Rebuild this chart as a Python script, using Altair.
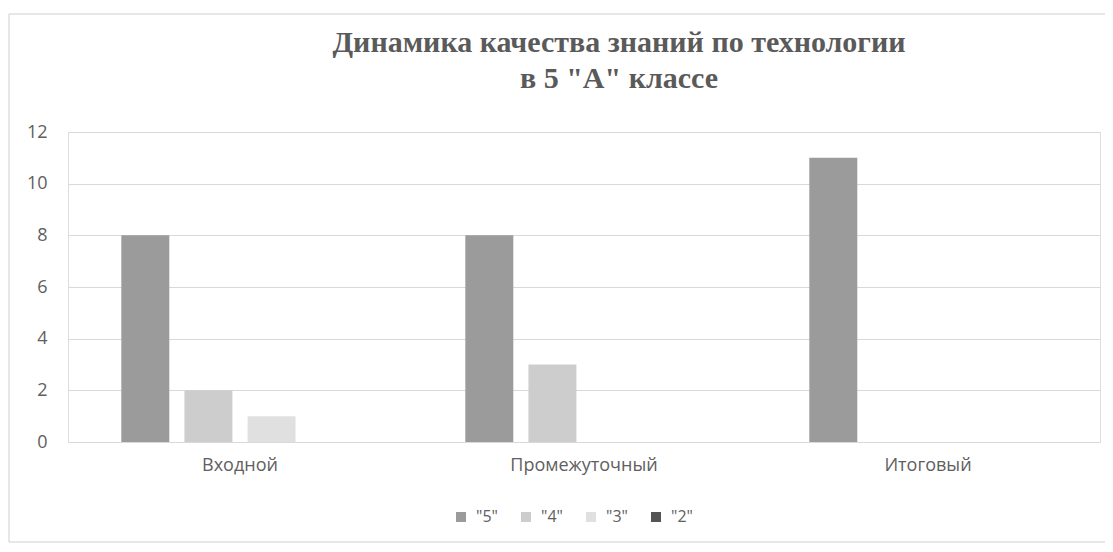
import altair as alt
import pandas as pd

categories = ["Входной", "Промежуточный", "Итоговый"]
series = ['"5"', '"4"', '"3"', '"2"']
values_5 = [8, 8, 11]
values_4 = [2, 3, 0]
values_3 = [1, 0, 0]
values_2 = [0, 0, 0]
colors = ["#9b9b9b", "#cdcdcd", "#e0e0e0", "#545454"]

rows = []
for s, vals in zip(series, [values_5, values_4, values_3, values_2]):
    for c, v in zip(categories, vals):
        rows.append({"cat": c, "series": s, "value": v})
df = pd.DataFrame(rows)

bars = alt.Chart(df).mark_bar().encode(
    x=alt.X("cat:N", sort=categories, title=None,
            scale=alt.Scale(paddingInner=0.31, paddingOuter=0.155),
            axis=alt.Axis(labelAngle=0, domain=False, ticks=False, labelPadding=14,
                          labelFontSize=18, labelColor="#606060", labelFont="Open Sans")),
    xOffset=alt.XOffset("series:N", sort=series,
                        scale=alt.Scale(paddingInner=0.24, paddingOuter=0)),
    y=alt.Y("value:Q", title=None,
            scale=alt.Scale(domain=[0, 12]),
            axis=alt.Axis(values=[0, 2, 4, 6, 8, 10, 12], domain=False, ticks=False,
                          labelPadding=21, labelFontSize=18, labelColor="#606060",
                          labelFont="Open Sans", gridColor="#d9d9d9")),
    color=alt.Color("series:N", sort=series,
                    scale=alt.Scale(domain=series, range=colors),
                    legend=alt.Legend(title=None, orient="none", direction="horizontal",
                                      legendX=385, legendY=377, symbolType="square",
                                      symbolSize=100, symbolStrokeWidth=0, labelOffset=7,
                                      labelFontSize=16, labelColor="#606060",
                                      labelFont="Open Sans", columnPadding=20)),
)

# faint border around the whole chart (decoration only)
frame = alt.Chart(pd.DataFrame({"k": [0]})).mark_rect(
    fill=None, stroke="#cfcfcf", strokeWidth=1, clip=False
).encode(x=alt.value(-59), x2=alt.value(1042), y=alt.value(-118), y2=alt.value(410))

chart = alt.layer(frame, bars).properties(
    width=1032, height=310,
    padding={"left": 60, "top": 124, "right": 5, "bottom": 102},
    autosize=alt.AutoSizeParams(type="none"),
    title=alt.TitleParams(
        text=["Динамика качества знаний по технологии", 'в 5 "А" классе'],
        anchor="middle", frame="group", dx=35, offset=-80, fontSize=30, lineHeight=36,
        font="Liberation Serif", fontWeight="bold", color="#5a5a5a"),
).configure_view(strokeWidth=0).configure(background="white")

chart.save("out.html", embed_options={"renderer": "svg", "actions": False})
